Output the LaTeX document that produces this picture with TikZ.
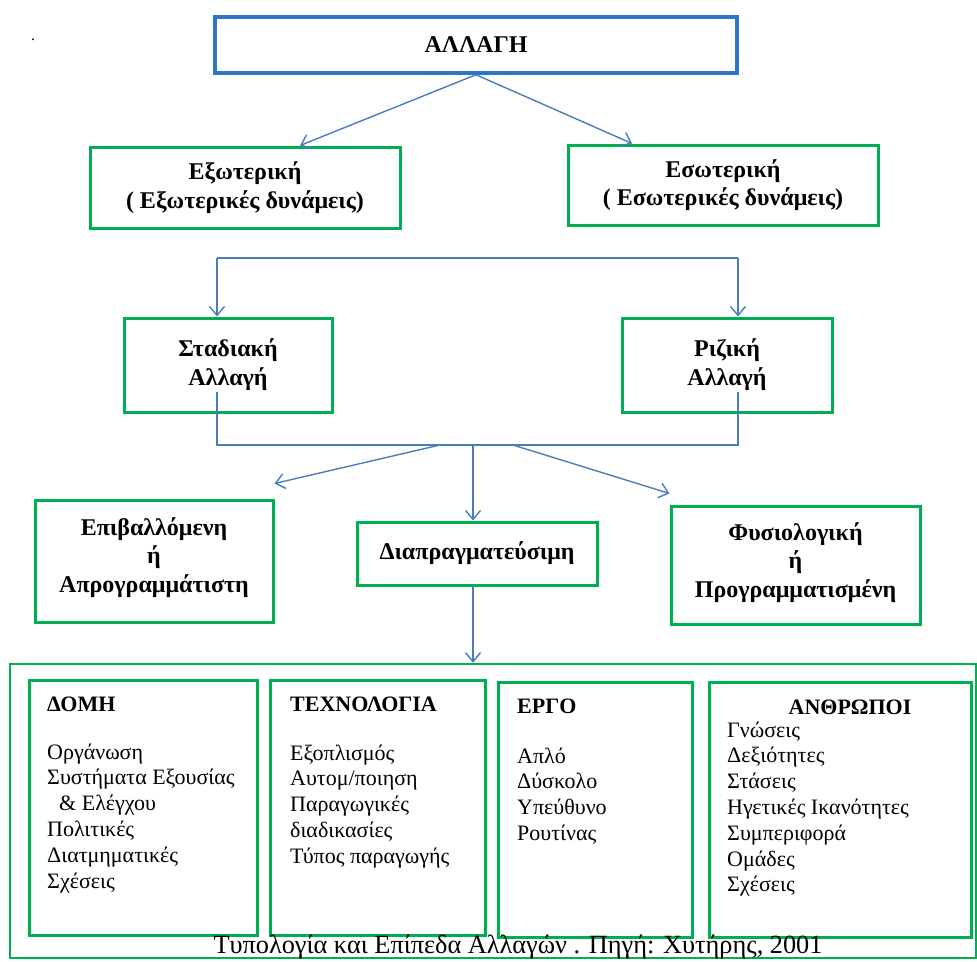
\documentclass[tikz,border=0pt]{standalone}
\usepackage{fontspec}
\setmainfont{Liberation Serif}
\usetikzlibrary{arrows.meta}
\definecolor{boxgreen}{RGB}{0,176,80}
\definecolor{linkblue}{RGB}{74,126,187}
\definecolor{headblue}{RGB}{46,117,200}

\begin{document}
\begin{tikzpicture}[x=1pt,y=-1pt,
  gbox/.style={draw=boxgreen, line width=3pt, inner sep=0pt},
  hbox/.style={draw=headblue, line width=3.5pt, inner sep=0pt},
  heading/.style={font=\bfseries\fontsize{24}{28.5}\selectfont, align=center},
  link/.style={draw=linkblue, line width=1.4pt},
  arr/.style={link, -{Straight Barb[length=9pt,width=15pt]}},
  item/.style={anchor=base west, inner sep=0pt, font=\fontsize{22}{26}\selectfont},
  colhead/.style={anchor=base west, inner sep=0pt, font=\bfseries\fontsize{22}{26}\selectfont},
]
\useasboundingbox (0,0) rectangle (977,961);

\node[inner sep=0pt, font=\fontsize{16}{16}\selectfont] (dot) at (33,40) {.};

% top level
\node[hbox, heading, minimum width=522pt, minimum height=56pt] (alla) at (476,45) {ΑΛΛΑΓΗ};

% external / internal
\node[gbox, heading, minimum width=310pt, minimum height=81pt] (ext) at (245,187.5)
  {Εξωτερική\\( Εξωτερικές δυνάμεις)};
\node[gbox, heading, minimum width=310pt, minimum height=80pt] (int) at (723,185)
  {Εσωτερική\\( Εσωτερικές δυνάμεις)};
\draw[arr] (alla.south) -- ([xshift=55pt]ext.north);
\draw[arr] (alla.south) -- ([xshift=-91pt]int.north);

% gradual / radical
\node[gbox, heading, minimum width=208pt, minimum height=94pt, text depth=6pt] (stad) at (228,365)
  {Σταδιακή\\Αλλαγή};
\node[gbox, heading, minimum width=210pt, minimum height=94pt, text depth=6pt] (riz) at (727,365)
  {Ριζική\\Αλλαγή};
\coordinate (bl) at (217,258);
\coordinate (br) at (738,258);
\draw[link] (bl) -- (br);
\draw[arr] (bl) -- (stad.north -| bl);
\draw[arr] (br) -- (riz.north -| br);

% joining line below
\coordinate (sl) at (217,392);
\coordinate (sb) at (217,445);
\coordinate (rl) at (738,392);
\coordinate (rb) at (738,445);
\draw[link] (sl) -- (sb) -- (rb) -- (rl);
\coordinate (jl) at (440,445);
\coordinate (jm) at (473,445);
\coordinate (jr) at (513,445);

% kinds of change
\node[gbox, heading, minimum width=238pt, minimum height=122pt, text depth=12pt] (epib) at (154,561)
  {Επιβαλλόμενη\\ή\\Απρογραμμάτιστη};
\node[gbox, heading, minimum width=240pt, minimum height=63pt] (diap) at (477,553.5)
  {Διαπραγματεύσιμη};
\node[gbox, heading, minimum width=249pt, minimum height=118pt, text depth=10pt] (fysi) at (795.5,565)
  {Φυσιολογική\\ή\\Προγραμματισμένη};
\draw[arr] (jl) -- ([yshift=15pt]epib.north east);
\draw[arr] (jm) -- (diap.north -| jm);
\draw[arr] (jr) -- ([yshift=11pt]fysi.north west);

% areas of change
\node[draw=boxgreen, line width=2.5pt, minimum width=966pt, minimum height=294pt, inner sep=0pt] (areas) at (493,811) {};
\draw[arr] (diap.south -| jm) -- (areas.north -| jm);

\node[gbox, minimum width=228pt, minimum height=255pt] (domi) at (143,807.5) {};
\node[gbox, minimum width=215pt, minimum height=255pt] (tech) at (377.5,807.5) {};
\node[gbox, minimum width=194pt, minimum height=255pt] (ergo) at (595,809.5) {};
\node[gbox, minimum width=262pt, minimum height=255pt] (anth) at (840,809.5) {};

\node[colhead] (domih) at (47,711) {ΔΟΜΗ};
\foreach \t [count=\i from 0] in {Οργάνωση, Συστήματα Εξουσίας, {\hspace*{12pt}\& Ελέγχου}, Πολιτικές, Διατμηματικές, Σχέσεις}
  \node[item, name=domi\i] at (47,{759+25.8*\i}) {\t};

\node[colhead] (techh) at (290,711) {ΤΕΧΝΟΛΟΓΙΑ};
\foreach \t [count=\i from 0] in {Εξοπλισμός, Αυτομ/ποιηση, Παραγωγικές, διαδικασίες, Τύπος παραγωγής}
  \node[item, name=tech\i] at (290,{760+25.8*\i}) {\t};

\node[colhead] (ergoh) at (517,713) {ΕΡΓΟ};
\foreach \t [count=\i from 0] in {Απλό, Δύσκολο, Υπεύθυνο, Ρουτίνας}
  \node[item, name=ergo\i] at (517,{763+25.8*\i}) {\t};

\node[colhead, anchor=base] (anthh) at (850,714) {ΑΝΘΡΩΠΟΙ};
\foreach \t [count=\i from 0] in {Γνώσεις, Δεξιότητες, Στάσεις, Ηγετικές Ικανότητες, Συμπεριφορά, Ομάδες, Σχέσεις}
  \node[item, name=anth\i] at (727,{737+25.8*\i}) {\t};

% caption
\node[anchor=base, inner sep=0pt, font=\fontsize{26.3}{26.3}\selectfont] (cap) at (518,953)
  {Τυπολογία και Επίπεδα Αλλαγών . Πηγή: Χυτήρης, 2001};
\end{tikzpicture}
\end{document}
